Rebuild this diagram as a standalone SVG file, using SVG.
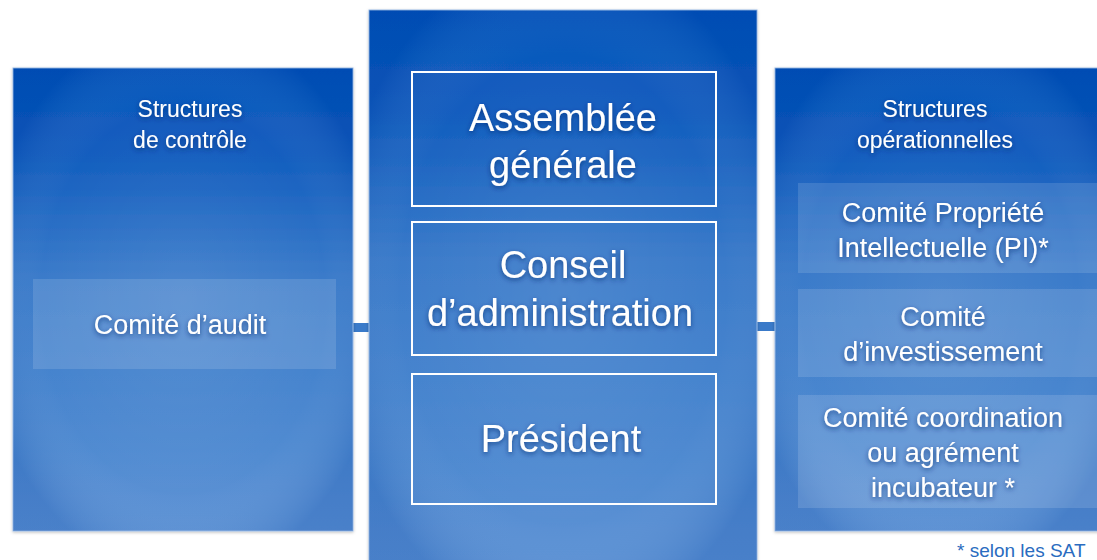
<svg xmlns="http://www.w3.org/2000/svg" width="1097" height="560" viewBox="0 0 1097 560">
<defs>
<linearGradient id="pg" x1="0" y1="0" x2="0" y2="1">
<stop offset="0" stop-color="#0050b9"/>
<stop offset="0.2" stop-color="#0d5abd"/>
<stop offset="0.45" stop-color="#3577c8"/>
<stop offset="0.75" stop-color="#4684ce"/>
<stop offset="1" stop-color="#5a90d4"/>
</linearGradient>
<radialGradient id="vg" cx="0.5" cy="0.5" r="0.6">
<stop offset="0" stop-color="#ffffff" stop-opacity="0.1"/>
<stop offset="0.7" stop-color="#ffffff" stop-opacity="0.03"/>
<stop offset="1" stop-color="#003a99" stop-opacity="0.18"/>
</radialGradient>
<filter id="ts" x="-10%" y="-30%" width="120%" height="160%">
<feDropShadow dx="0" dy="2" stdDeviation="2.5" flood-color="#002a70" flood-opacity="0.7"/>
</filter>
<filter id="ps" x="-5%" y="-5%" width="110%" height="110%">
<feDropShadow dx="0" dy="1" stdDeviation="1.5" flood-color="#000000" flood-opacity="0.25"/>
</filter>
</defs>
<style>
.panel{fill:url(#pg);stroke:#9bbbe6;stroke-width:1;filter:url(#ps)}
.vig{fill:url(#vg)}
.inner{fill:#ffffff;fill-opacity:0.13}
.frame{fill:none;stroke:#ffffff;stroke-width:2}
.t{font-family:"Liberation Sans",Arial,sans-serif;fill:#ffffff;text-anchor:middle;filter:url(#ts)}
.title{font-size:23px}
.big{font-size:38px}
.mid{font-size:27px}
.conn{fill:#3a7ac9}
.foot{font-family:"Liberation Sans",Arial,sans-serif;font-size:19px;fill:#2a6cc0}
</style>
<rect width="1097" height="560" fill="#ffffff"/>

<g id="connectors">
<rect class="conn" x="352" y="323" width="18" height="9"/>
<rect class="conn" x="756" y="322" width="42" height="9"/>
<rect x="942" y="273" width="10" height="16" fill="#6f9fdc" fill-opacity="0.7"/>
<rect x="942" y="377" width="10" height="18" fill="#6f9fdc" fill-opacity="0.7"/>
</g>

<g id="panel-controle">
<rect class="panel" x="13" y="68" width="340" height="463"/>
<rect class="vig" x="13" y="68" width="340" height="463"/>
<text class="t title" x="190" y="117">Structures</text>
<text class="t title" x="190" y="148">de contrôle</text>
</g>
<g id="comite-audit">
<rect class="inner" x="33" y="279" width="303" height="90"/>
<text class="t mid" x="180" y="334">Comité d’audit</text>
</g>

<g id="panel-central">
<rect class="panel" x="369" y="10" width="388" height="560"/>
<rect class="vig" x="369" y="10" width="388" height="560"/>
</g>
<g id="assemblee">
<rect class="frame" x="412" y="72" width="304" height="134"/>
<text class="t big" x="563" y="131">Assemblée</text>
<text class="t big" x="563" y="178">générale</text>
</g>
<g id="conseil">
<rect class="frame" x="412" y="222" width="304" height="133"/>
<text class="t big" x="563" y="278">Conseil</text>
<text class="t big" x="560" y="326">d’administration</text>
</g>
<g id="president">
<rect class="frame" x="412" y="374" width="304" height="130"/>
<text class="t big" x="561" y="452">Président</text>
</g>

<g id="panel-operationnelles">
<rect class="panel" x="775" y="68" width="330" height="463"/>
<rect class="vig" x="775" y="68" width="330" height="463"/>
<text class="t title" x="935" y="117">Structures</text>
<text class="t title" x="935" y="148">opérationnelles</text>
</g>
<g id="comite-pi">
<rect class="inner" x="798" y="183" width="305" height="90"/>
<text class="t mid" x="943" y="222">Comité Propriété</text>
<text class="t mid" x="943" y="257">Intellectuelle (PI)*</text>
</g>
<g id="comite-investissement">
<rect class="inner" x="798" y="289" width="305" height="88"/>
<text class="t mid" x="943" y="326">Comité</text>
<text class="t mid" x="943" y="361">d’investissement</text>
</g>
<g id="comite-coordination">
<rect class="inner" x="798" y="395" width="305" height="113"/>
<text class="t mid" x="943" y="427">Comité coordination</text>
<text class="t mid" x="943" y="462">ou agrément</text>
<text class="t mid" x="943" y="497">incubateur *</text>
</g>

<text class="foot" x="957" y="557">* selon les SAT</text>
</svg>
